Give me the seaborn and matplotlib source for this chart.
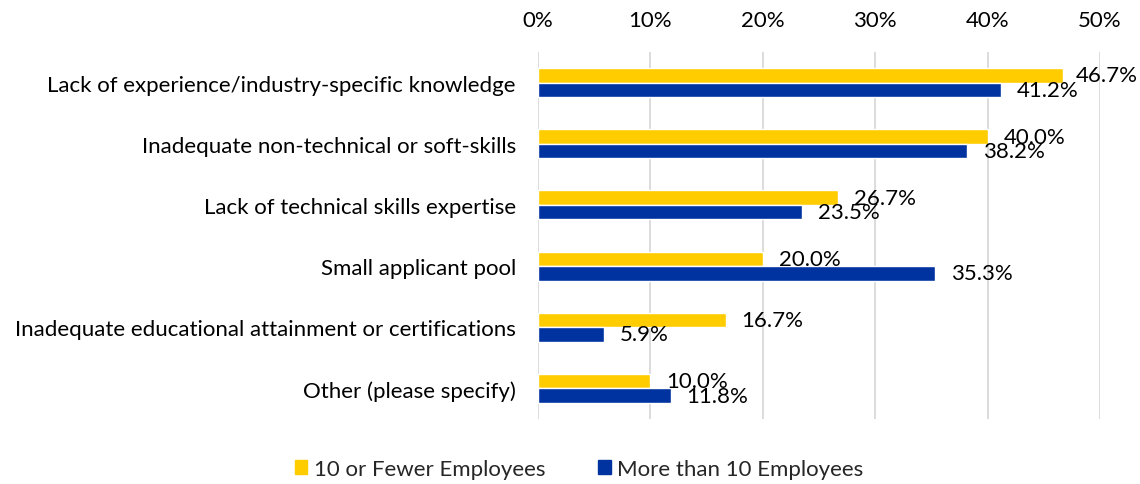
import matplotlib
matplotlib.use("Agg")
import matplotlib.pyplot as plt
import seaborn as sns
import pandas as pd

categories = [
    "Lack of experience/industry-specific knowledge",
    "Inadequate non-technical or soft-skills",
    "Lack of technical skills expertise",
    "Small applicant pool",
    "Inadequate educational attainment or certifications",
    "Other (please specify)",
]
series_names = ["10 or Fewer Employees", "More than 10 Employees"]
small_vals = [46.7, 40.0, 26.7, 20.0, 16.7, 10.0]
large_vals = [41.2, 38.2, 23.5, 35.3, 5.9, 11.8]
xticks = [0, 10, 20, 30, 40, 50]
xtick_labels = ["0%", "10%", "20%", "30%", "40%", "50%"]
colors = ["#FFCC00", "#0033A0"]

df = pd.DataFrame({
    "category": categories * 2,
    "series": [series_names[0]] * len(categories) + [series_names[1]] * len(categories),
    "value": small_vals + large_vals,
})

sns.set_theme(style="white")
plt.rcParams["font.family"] = ["Lato", "DejaVu Sans"]
FS = 16

W, H = 1140, 485
fig = plt.figure(figsize=(W / 100, H / 100), dpi=100)
ax = fig.add_axes([538 / W, 1 - 420 / H, (1100 - 538) / W, (420 - 53) / H])

sns.barplot(data=df, y="category", x="value", hue="series", order=categories,
            hue_order=series_names, palette=colors, width=0.474, orient="h",
            ax=ax, legend=False, saturation=1)

ax.set_xlim(0, 50)
ax.set_ylim(len(categories) - 0.5, -0.5)
ax.set_xticks(xticks)
ax.set_xticklabels(xtick_labels)
ax.xaxis.tick_top()
ax.set_xlabel("")
ax.set_ylabel("")
for s in ax.spines.values():
    s.set_visible(False)
ax.grid(axis="x", color="#D9D9D9", linewidth=1.3)
ax.set_axisbelow(True)
ax.tick_params(axis="x", length=0, pad=16, labelsize=FS, colors="black")
ax.tick_params(axis="y", length=0, pad=16, labelsize=FS, colors="black")
for lbl in ax.get_xticklabels() + ax.get_yticklabels():
    lbl.set_color("black")

fig.canvas.draw()
renderer = fig.canvas.get_renderer()
for cont in ax.containers:
    for bar in cont:
        val = bar.get_width()
        yc = bar.get_y() + bar.get_height() / 2
        t = ax.annotate(f"{val:.1f}%", xy=(val, yc), xytext=(11.5, 0),
                        textcoords="offset points", va="center", ha="left",
                        fontsize=FS, color="black", annotation_clip=False)
        bb = t.get_window_extent(renderer)
        if bb.x1 > W - 2:
            shift = (bb.x1 - (W - 2)) * 72 / 100
            t.set_position((11.5 - shift, 0))

handles = [plt.Rectangle((0, 0), 1, 1, color=c) for c in colors]
fig.legend(handles, series_names, loc="center", bbox_to_anchor=(0.508, 1 - 470 / H),
           ncol=2, frameon=False, fontsize=FS, handlelength=0.55, handleheight=0.55,
           handletextpad=0.3, columnspacing=2.4)

fig.savefig("out.png", dpi=100)
